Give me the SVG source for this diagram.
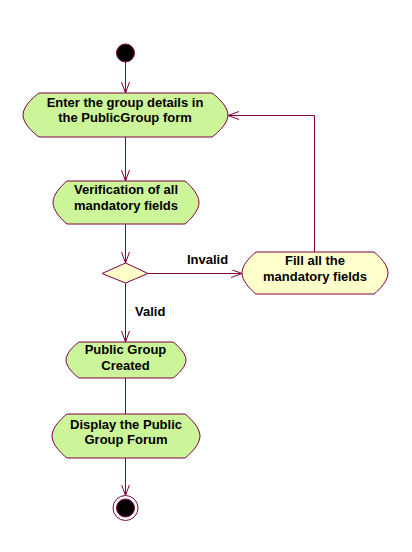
<svg xmlns="http://www.w3.org/2000/svg" width="412" height="552" viewBox="0 0 412 552">
<defs>
<marker id="arr" markerWidth="13" markerHeight="10" refX="11" refY="4" orient="auto" markerUnits="userSpaceOnUse">
<path d="M0,0 L11,4 L0,8" fill="none" stroke="#800040" stroke-width="1"/>
</marker>
<style>
.act{fill:#ccf599;stroke:#800040;stroke-width:1}
.dec{fill:#ffffcc;stroke:#800040;stroke-width:1}
.lbl{font-family:"Liberation Sans",Arial,sans-serif;font-size:13px;font-weight:bold;fill:#000}
.c{text-anchor:middle}
.ln{fill:none;stroke:#800040;stroke-width:1}
</style>
</defs>
<rect width="412" height="552" fill="#fff"/>
<g id="connectors">
<path class="ln" d="M125.5,62 V93" marker-end="url(#arr)"/>
<path class="ln" d="M125.5,137 V181" marker-end="url(#arr)"/>
<path class="ln" d="M125.5,224 V263" marker-end="url(#arr)"/>
<path class="ln" d="M125.5,283 V342" marker-end="url(#arr)"/>
<path class="ln" d="M125.5,378 V414"/>
<path class="ln" d="M125.5,458 V495.5" marker-end="url(#arr)"/>
<path class="ln" d="M148,273.5 H242" marker-end="url(#arr)"/>
<path class="ln" d="M314.5,252 V115.5 H228" marker-end="url(#arr)"/>
<text class="lbl" x="187" y="264">Invalid</text>
<text class="lbl" x="135" y="316">Valid</text>
</g>
<g id="start">
<circle cx="125.5" cy="53" r="9" fill="#000" stroke="#800040"/>
</g>
<g id="enter">
<path class="act" d="M39,93 H212 C219.2,98.3 228,107.1 228,115 C228,122.9 219.2,131.7 212,137 H39 C31.8,131.7 23,122.9 23,115 C23,107.1 31.8,98.3 39,93 Z"/>
<text class="lbl c" x="125" y="106.5">Enter the group details in</text>
<text class="lbl c" x="125" y="122">the PublicGroup form</text>
</g>
<g id="verify">
<path class="act" d="M67,181 H185 C191.3,186.2 199,194.8 199,202.5 C199,210.2 191.3,218.8 185,224 H67 C60.7,218.8 53,210.2 53,202.5 C53,194.8 60.7,186.2 67,181 Z"/>
<text class="lbl c" x="126" y="194">Verification of all</text>
<text class="lbl c" x="126" y="209.5">mandatory fields</text>
</g>
<g id="decision">
<polygon class="dec" points="125.5,263 148,273.5 125.5,283 102,273.5"/>
</g>
<g id="fill">
<path class="dec" d="M256,252 H374 C380.3,257 388,265.4 388,273 C388,280.6 380.3,289 374,294 H256 C249.7,289 242,280.6 242,273 C242,265.4 249.7,257 256,252 Z"/>
<text class="lbl c" x="315" y="265">Fill all the</text>
<text class="lbl c" x="315" y="281">mandatory fields</text>
</g>
<g id="created">
<path class="act" d="M79,342 H173 C178.85,346.3 186,353.5 186,360 C186,366.5 178.85,373.7 173,378 H79 C73.15,373.7 66,366.5 66,360 C66,353.5 73.15,346.3 79,342 Z"/>
<text class="lbl c" x="125.5" y="354">Public Group</text>
<text class="lbl c" x="125.5" y="370">Created</text>
</g>
<g id="display">
<path class="act" d="M67,414 H185 C191.75,419.3 200,428.1 200,436 C200,443.9 191.75,452.7 185,458 H67 C60.25,452.7 52,443.9 52,436 C52,428.1 60.25,419.3 67,414 Z"/>
<text class="lbl c" x="126" y="428.5">Display the Public</text>
<text class="lbl c" x="126" y="443.5">Group Forum</text>
</g>
<g id="end">
<circle cx="125.5" cy="508" r="12.5" fill="#fff" stroke="#800040"/>
<circle cx="125.5" cy="508" r="9" fill="#000" stroke="#800040"/>
</g>
</svg>
